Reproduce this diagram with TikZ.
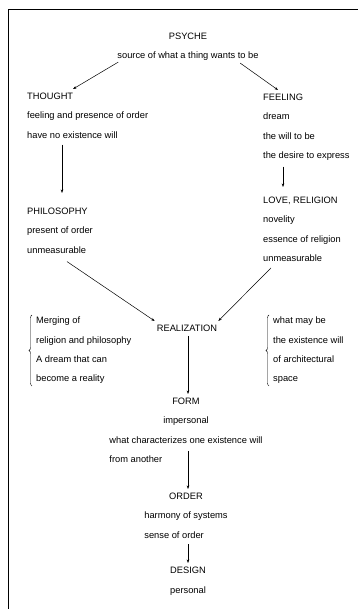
\documentclass[tikz,border=0pt]{standalone}
\usepackage{fontspec}
\setmainfont{Liberation Sans}
\usetikzlibrary{arrows.meta,decorations.pathreplacing}
\begin{document}
\begin{tikzpicture}[x=1pt,y=-1pt,
  txt/.style={inner sep=0pt, font=\fontsize{9.3}{19.3}\selectfont, align=left},
  ctxt/.style={txt, align=center},
  arr/.style={-{Stealth[length=3.5pt,width=2.6pt]}, line width=0.5pt},
  frame/.style={line width=0.7pt},
  brc/.style={decorate, decoration={brace, amplitude=3pt}, line width=0.4pt}]
\useasboundingbox (0,0) rectangle (358,609);
\draw[frame] (8,609) -- (8,9) -- (358,9);
\coordinate (axis) at (188,0);

\node[ctxt, anchor=north] (psyche) at (188,33) {PSYCHE\\source of what a thing wants to be};
\node[txt, anchor=north west] (thought) at (27,93) {THOUGHT\\feeling and presence of order\\have no existence will};
\node[txt, anchor=north west] (feeling) at (263,94) {FEELING\\dream\\the will to be\\the desire to express};
\node[txt, anchor=north west] (philosophy) at (27,208) {PHILOSOPHY\\present of order\\unmeasurable};
\node[txt, anchor=north west] (love) at (263,197) {LOVE, RELIGION\\novelity\\essence of religion\\unmeasurable};
\node[txt, anchor=north] (realization) at (187,325) {REALIZATION};
\node[txt, anchor=north west] (lnote) at (36,317) {Merging of\\religion and philosophy\\A dream that can\\become a reality};
\node[txt, anchor=north west] (rnote) at (273,317) {what may be\\the existence will\\of architectural\\space};
\node[ctxt, anchor=north] (form) at (186,398) {FORM\\impersonal\\what characterizes one existence will\\\rlap{from another}\phantom{what characterizes one existence will}};
\node[ctxt, anchor=north] (order) at (186,493) {ORDER\\harmony of systems\\\rlap{sense of order}\phantom{harmony of systems}};
\node[ctxt, anchor=north] (design) at (188,567) {DESIGN\\personal};

\draw[brc] ([shift={(-4pt,-2pt)}]lnote.south west) -- ([shift={(-4pt,2pt)}]lnote.north west);
\draw[brc] ([shift={(-4pt,-2pt)}]rnote.south west) -- ([shift={(-4pt,2pt)}]rnote.north west);

\draw[arr] ([shift={(1pt,-1pt)}]psyche.south west) -- ([shift={(46pt,4pt)}]thought.north west);
\draw[arr] ([shift={(123pt,-2pt)}]psyche.south west) -- ([shift={(15pt,4pt)}]feeling.north west);
\draw[arr] ([shift={(35pt,-6pt)}]thought.south west) -- ([shift={(35pt,15pt)}]philosophy.north west);
\draw[arr] ([shift={(20pt,-6pt)}]feeling.south west) -- ([shift={(20pt,10pt)}]love.north west);
\draw[arr] ([shift={(40pt,-8pt)}]philosophy.south west) -- ([shift={(-2pt,4pt)}]realization.north west);
\draw[arr] ([shift={(8pt,-6pt)}]love.south west) -- ([shift={(1pt,4pt)}]realization.north east);
\draw[arr] ([yshift=-4pt]axis |- realization.south) -- ([yshift=4pt]axis |- form.north);
\draw[arr] ([yshift=12pt]axis |- form.south) -- ([yshift=4pt]axis |- order.north);
\draw[arr] ([yshift=-4pt]axis |- order.south) -- ([yshift=4pt]axis |- design.north);
\end{tikzpicture}
\end{document}
